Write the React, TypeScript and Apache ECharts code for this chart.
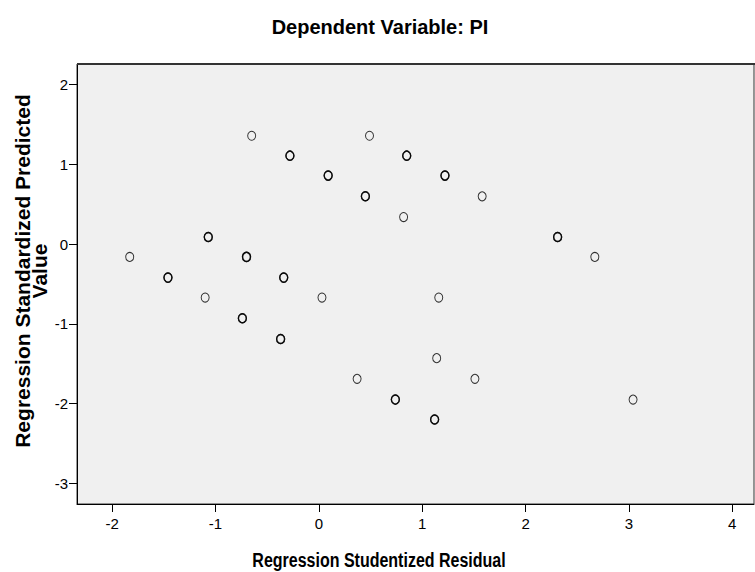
import React, { useEffect, useRef } from "react";
import * as echarts from "echarts";

// Regression Studentized Residual (x) and Regression Standardized Predicted Value (y)
const residuals = [
  -0.65, 0.49, -0.28, 0.85, 0.09, 1.22, 0.45, 1.58, 0.82, -1.07, 2.31, -1.83, -0.7, 2.67,
  -1.46, -0.34, -1.1, 0.03, 1.16, -0.74, -0.37, 1.14, 0.37, 1.51, 0.74, 3.04, 1.12,
];
const predicted = [
  1.36, 1.36, 1.11, 1.11, 0.86, 0.86, 0.6, 0.6, 0.34, 0.09, 0.09, -0.16, -0.16, -0.16,
  -0.42, -0.42, -0.67, -0.67, -0.67, -0.93, -1.19, -1.43, -1.69, -1.69, -1.95, -1.95, -2.2,
];
// number of cases plotted at each position (overlapping markers look bolder)
const caseCounts = [1, 1, 2, 2, 2, 2, 2, 1, 1, 2, 2, 1, 2, 1, 2, 2, 1, 1, 1, 2, 2, 1, 1, 1, 2, 1, 2];

const xTicks = [-2, -1, 0, 1, 2, 3, 4];
const yTicks = [-3, -2, -1, 0, 1, 2];

const chartTitle = "Dependent Variable: PI";
const xTitle = "Regression Studentized Residual";
const yTitle = "Regression Standardized Predicted\nValue";

const FONT = "'Liberation Sans', Arial, Helvetica, sans-serif";

export default function App() {
  const ref = useRef<HTMLDivElement>(null);

  useEffect(() => {
    if (!ref.current) return;
    const chart = echarts.init(ref.current, undefined, { renderer: "svg" });

    const points: any[] = [];
    residuals.forEach((x, i) => {
      for (let k = 0; k < caseCounts[i]; k++) {
        points.push({
          value: [x, predicted[i]],
          itemStyle: { borderWidth: caseCounts[i] > 1 ? 1.4 : 1 },
        });
      }
    });

    chart.setOption({
      animation: false,
      backgroundColor: "#ffffff",
      textStyle: { fontFamily: FONT },
      grid: {
        left: 77,
        top: 64,
        right: 1,
        bottom: 68,
        show: true,
        backgroundColor: "#f0f0f0",
        borderColor: "#333333",
        borderWidth: 1,
      },
      xAxis: {
        type: "value",
        min: -2.34,
        max: 4.21,
        splitLine: { show: false },
        axisLine: { show: true, onZero: false, lineStyle: { color: "#000", width: 1 } },
        axisTick: { show: true, length: 8, customValues: xTicks, lineStyle: { color: "#000", width: 1 } },
        axisLabel: {
          customValues: xTicks,
          fontSize: 15,
          color: "#000",
          margin: 12,
          fontFamily: FONT,
        },
      },
      yAxis: {
        type: "value",
        min: -3.26,
        max: 2.26,
        splitLine: { show: false },
        axisLine: { show: true, onZero: false, lineStyle: { color: "#000", width: 1 } },
        axisTick: { show: true, length: 8, customValues: yTicks, lineStyle: { color: "#000", width: 1 } },
        axisLabel: {
          customValues: yTicks,
          fontSize: 15,
          color: "#000",
          margin: 9,
          fontFamily: FONT,
        },
      },
      graphic: [
        {
          type: "line",
          shape: { x1: 77, y1: 64, x2: 755, y2: 64 },
          style: { stroke: "#333333", lineWidth: 2 },
          z: 10,
        },
        {
          type: "text",
          x: 380,
          y: 26,
          scaleY: 1.05,
          style: {
            text: chartTitle,
            font: `bold 20px ${FONT}`,
            fill: "#000",
            align: "center",
            verticalAlign: "middle",
          },
        },
        {
          type: "text",
          x: 379,
          y: 560,
          scaleY: 1.25,
          style: {
            text: xTitle,
            font: `bold 16px ${FONT}`,
            fill: "#000",
            align: "center",
            verticalAlign: "middle",
          },
        },
        {
          type: "text",
          x: 31,
          y: 271,
          rotation: Math.PI / 2,
          style: {
            text: yTitle,
            font: `bold 21px ${FONT}`,
            lineHeight: 17,
            fill: "#000",
            align: "center",
            verticalAlign: "middle",
          },
        },
      ],
      series: [
        {
          type: "scatter",
          data: points,
          symbol: "circle",
          symbolSize: [8, 9],
          itemStyle: { color: "rgba(0,0,0,0)", borderColor: "#000", borderWidth: 1 },
          emphasis: { disabled: true },
        },
      ],
    });

    return () => chart.dispose();
  }, []);

  return (
    <div
      ref={ref}
      style={{ position: "absolute", left: 0, top: 0, width: 755, height: 572, background: "#fff" }}
    />
  );
}
